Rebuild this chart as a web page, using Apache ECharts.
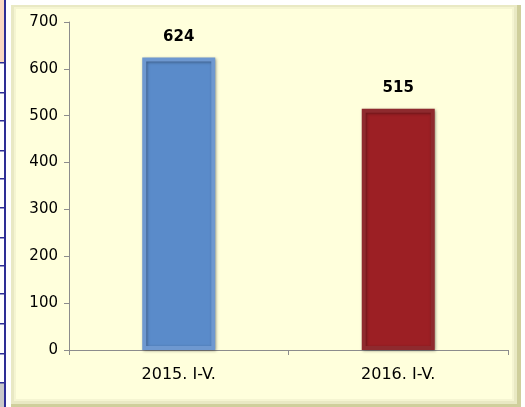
<!DOCTYPE html>
<html>
<head>
<meta charset="utf-8">
<script src="https://cdn.jsdelivr.net/npm/echarts@6/dist/echarts.min.js"></script>
<style>
  html, body { margin: 0; padding: 0; background: #fff; }
  #chart { width: 525px; height: 407px; }
</style>
</head>
<body>
<div id="chart"></div>
<script>
(function() {
  'use strict';

  var categories = ['2015. I-V.', '2016. I-V.'];
  var values = [624, 515];
  var barColors = ['#5A8BCA', '#9C1F24'];
  var barEdges = ['#6E98D0', '#8E2A2E'];
  var yTicks = [0, 100, 200, 300, 400, 500, 600, 700];

  // table fragment on the left edge
  var stripLines = [62, 92, 120, 150, 178, 207, 237, 265, 293, 323, 353, 382];

  var graphics = [
    { type: 'rect', shape: { x: 0, y: 0, width: 5, height: 62 }, style: { fill: '#FAD9C2' }, silent: true },
    { type: 'rect', shape: { x: 0, y: 383, width: 5, height: 24 }, style: { fill: '#C9C9C9' }, silent: true },
    { type: 'rect', shape: { x: 4, y: 0, width: 2, height: 407 }, style: { fill: '#2E2E96' }, silent: true },
    // frame bevel
    { type: 'rect', shape: { x: 11, y: 5, width: 510, height: 402 }, style: { fill: '#CFCF9C' }, silent: true },
    { type: 'rect', shape: { x: 11, y: 5, width: 506, height: 399 }, style: { fill: '#E9E9C4' }, silent: true },
    { type: 'rect', shape: { x: 14, y: 7, width: 500, height: 394 }, style: { fill: '#F5F5D2' }, silent: true },
    { type: 'rect', shape: { x: 16, y: 9, width: 496, height: 390 }, style: { fill: '#FFFFDC' }, silent: true }
  ];
  stripLines.forEach(function(y) {
    graphics.push({ type: 'rect', shape: { x: 0, y: y, width: 5, height: 1.5 }, style: { fill: '#2E2E96' }, silent: true });
  });

  var chart = echarts.init(document.getElementById('chart'), null, { renderer: 'canvas' });
  chart.setOption({
    animation: false,
    backgroundColor: '#fff',
    graphic: graphics,
    grid: { left: 69, right: 17, top: 22, bottom: 57 },
    xAxis: {
      type: 'category',
      data: categories,
      axisLine: { lineStyle: { color: '#8C8C8C', width: 1 } },
      axisTick: { show: true, length: 5, lineStyle: { color: '#8C8C8C' } },
      axisLabel: { color: '#000', fontFamily: 'DejaVu Sans', fontSize: 16, margin: 17 }
    },
    yAxis: {
      type: 'value',
      min: 0,
      max: yTicks[yTicks.length - 1],
      interval: 100,
      axisLine: { show: true, lineStyle: { color: '#8C8C8C', width: 1 } },
      axisTick: { show: true, length: 5, lineStyle: { color: '#8C8C8C' } },
      axisLabel: { color: '#000', fontFamily: 'DejaVu Sans', fontSize: 15, margin: 11 },
      splitLine: { show: false }
    },
    series: [{
      type: 'bar',
      barWidth: 73,
      data: values.map(function(v, i) {
        return {
          value: v,
          itemStyle: {
            color: barColors[i],
            borderColor: barEdges[i],
            borderWidth: 4,
            shadowColor: 'rgba(0,0,0,0.35)',
            shadowBlur: 3,
            shadowOffsetX: 1,
            shadowOffsetY: 1
          }
        };
      }),
      label: {
        show: true,
        position: 'top',
        distance: 13,
        color: '#000',
        fontWeight: 'bold',
        fontFamily: 'DejaVu Sans',
        fontSize: 15
      }
    }]
  });
})();
</script>
</body>
</html>
